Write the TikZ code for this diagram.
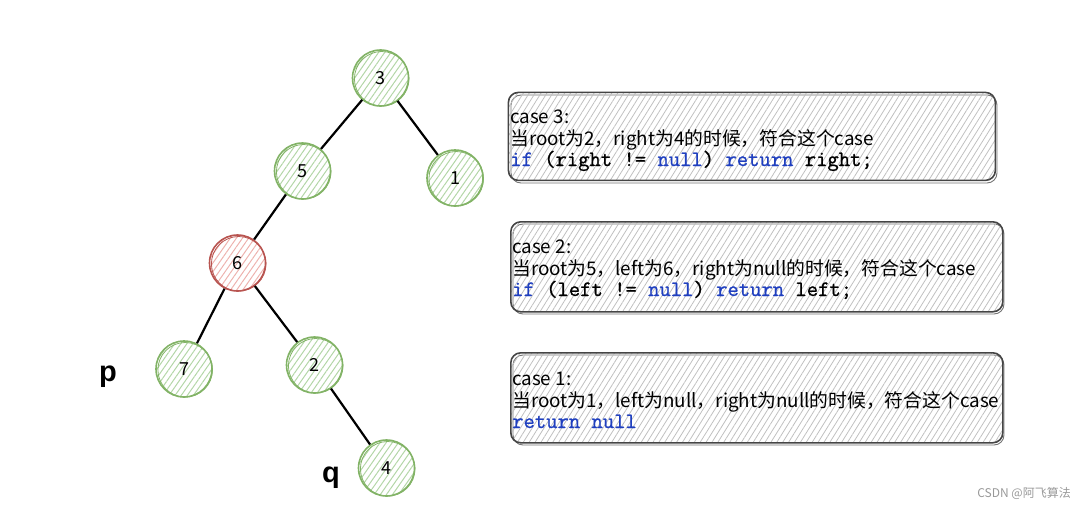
\documentclass[tikz,border=0pt]{standalone}
\usepackage{fontspec}
\setmainfont{Noto Sans CJK SC}
\setmonofont{Latin Modern Mono}[FakeBold=1.0]
\newfontfamily\pqfont{Liberation Sans}
\usetikzlibrary{patterns.meta}
\definecolor{gstroke}{HTML}{82B366}
\definecolor{gfill}{HTML}{B3D6A7}
\definecolor{rstroke}{HTML}{B85450}
\definecolor{rfill}{HTML}{EDB2AE}
\definecolor{kw}{HTML}{1F3FBF}
\definecolor{boxline}{HTML}{454545}
\definecolor{hatch}{HTML}{C0C0C0}
\newcommand{\kwd}[1]{\textcolor{kw}{#1}}
\begin{document}
\begin{tikzpicture}[x=1pt,y=-1pt,
  tnode/.style={circle, minimum size=56pt, inner sep=0pt, draw=gstroke, line width=1.6pt,
    pattern={Lines[angle=55,distance=5pt,line width=1pt]}, pattern color=gfill,
    font=\fontsize{18}{18}\selectfont},
  rnode/.style={tnode, draw=rstroke, pattern color=rfill},
  edge/.style={draw=black, line width=2.2pt},
  casebox/.style={draw=boxline, line width=1.6pt, rounded corners=10pt, inner sep=0pt,
    pattern={Lines[angle=58,distance=5pt,line width=0.8pt]}, pattern color=hatch, anchor=north west},
  cjkline/.style={anchor=base west, inner sep=0pt, font=\fontsize{18.8}{18.8}\selectfont},
  codeline/.style={anchor=base west, inner sep=0pt, font=\fontsize{22}{22}\selectfont\ttfamily},
  pqlabel/.style={inner sep=0pt, font=\fontsize{29}{29}\selectfont\pqfont\bfseries}
]
\useasboundingbox (0,0) rectangle (1080,506);

% tree nodes
\node[tnode] (n3) at (380.5,78) {3};
\node[tnode] (n5) at (302.5,171) {5};
\node[tnode] (n1) at (455,178) {1};
\node[rnode] (n6) at (237.5,263) {6};
\node[tnode] (n7) at (184,369) {7};
\node[tnode] (n2) at (314.5,365) {2};
\node[tnode] (n4) at (386.5,468) {4};

% sketchy second outlines
\foreach \n in {n3,n5,n1,n7,n2,n4}
  \draw[gstroke, line width=0.8pt] ([xshift=1.2pt,yshift=-0.8pt]\n.center) circle (27.3pt);
\draw[rstroke, line width=0.8pt] ([xshift=1.2pt,yshift=-0.8pt]n6.center) circle (27.3pt);

% edges
\draw[edge] (n3) -- (n5);
\draw[edge] (n3) -- (n1);
\draw[edge] (n5) -- (n6);
\draw[edge] (n6) -- (n7);
\draw[edge] (n6) -- (n2);
\draw[edge] (n2) -- (n4);

% p / q labels
\node[pqlabel, anchor=base] (p) at (108,381) {p};
\node[pqlabel, anchor=base] (q) at (331,482) {q};

% boxes
\draw[boxline!75, line width=0.9pt, rounded corners=10pt] (511,95) rectangle (997,183);
\node[casebox, minimum width=487pt, minimum height=88pt] (b3) at (508,92) {};
\draw[boxline!75, line width=0.9pt, rounded corners=10pt] (513,224) rectangle (1004,314);
\node[casebox, minimum width=492pt, minimum height=90pt] (b2) at (510,221) {};
\draw[boxline!75, line width=0.9pt, rounded corners=10pt] (513,355) rectangle (1004,445);
\node[casebox, minimum width=492pt, minimum height=90pt] (b1) at (510,352) {};

% box texts
\node[cjkline] (c3a) at (510,123) {case 3:};
\node[cjkline] (c3b) at (510,145) {当root为2，right为4的时候，符合这个case};
\node[codeline] (c3c) at (510,166) {\kwd{if} (right != \kwd{null}) \kwd{return} right;};

\node[cjkline] (c2a) at (512,253) {case 2:};
\node[cjkline] (c2b) at (512,275) {当root为5，left为6，right为null的时候，符合这个case};
\node[codeline] (c2c) at (512,296) {\kwd{if} (left != \kwd{null}) \kwd{return} left;};

\node[cjkline] (c1a) at (512,385) {case 1:};
\node[cjkline] (c1b) at (512,407) {当root为1，left为null，right为null的时候，符合这个case};
\node[codeline] (c1c) at (512,428) {\kwd{return null}};

% watermark
\node[anchor=base east, inner sep=0pt, text=gray!80, font=\fontsize{12}{12}\selectfont] (wm) at (1071,497) {CSDN @阿飞算法};
\end{tikzpicture}
\end{document}
